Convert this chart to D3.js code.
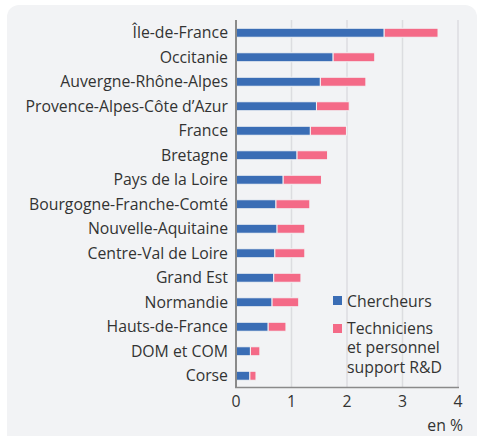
<!DOCTYPE html>
<html>
<head>
<meta charset="utf-8">
<script src="https://cdn.jsdelivr.net/npm/d3@7"></script>
<style>
  body { margin: 0; background: #fff; }
  text { font-family: "Open Sans", "Noto Sans", sans-serif; fill: #333; }
</style>
</head>
<body>
<div id="chart"></div>
<script>
var regions = ["Île-de-France", "Occitanie", "Auvergne-Rhône-Alpes", "Provence-Alpes-Côte d’Azur",
  "France", "Bretagne", "Pays de la Loire", "Bourgogne-Franche-Comté", "Nouvelle-Aquitaine",
  "Centre-Val de Loire", "Grand Est", "Normandie", "Hauts-de-France", "DOM et COM", "Corse"];
var chercheurs = [2.67, 1.75, 1.52, 1.45, 1.34, 1.10, 0.85, 0.72, 0.74, 0.70, 0.68, 0.65, 0.58, 0.26, 0.25];
var techniciens = [0.97, 0.75, 0.82, 0.59, 0.65, 0.55, 0.69, 0.61, 0.50, 0.54, 0.49, 0.48, 0.32, 0.17, 0.11];
var ticks = [0, 1, 2, 3, 4];
var seriesNames = ["Chercheurs", ["Techniciens", "et personnel", "support R&D"]];
var colors = ["#3a6db5", "#f46a87"];

var width = 477, height = 436;
var fs = '15.8px';
var svg = d3.select('#chart').append('svg')
    .attr('width', width)
    .attr('height', height);

// card
svg.append('path')
    .attr('d', 'M7,' + (height + 20) + 'V17a12,12 0 0 1 12,-12H465a12,12 0 0 1 12,12V' + (height + 20) + 'Z')
    .attr('fill', '#f2f3f5');

var x = d3.scaleLinear().domain([0, 4]).range([236, 458]);
var y = d3.scaleBand().domain(regions).range([20.5, 388]);
var barH = 9;

// grid
svg.selectAll('line.grid')
    .data(ticks.slice(1))
    .enter().append('line')
    .attr('class', 'grid')
    .attr('x1', function (d) { return x(d); })
    .attr('x2', function (d) { return x(d); })
    .attr('y1', 20)
    .attr('y2', 387)
    .attr('stroke', '#dcdde0')
    .attr('stroke-width', 1.5);

var stacked = regions.map(function (r, i) {
    return [{r: r, x0: 0, x1: chercheurs[i], c: 0},
            {r: r, x0: chercheurs[i], x1: chercheurs[i] + techniciens[i], c: 1}];
});

svg.selectAll('g.bar')
    .data(stacked)
    .enter().append('g')
    .attr('class', 'bar')
    .selectAll('rect')
    .data(function (d) { return d; })
    .enter().append('rect')
    .attr('x', function (d) { return x(d.x0); })
    .attr('width', function (d) { return x(d.x1) - x(d.x0); })
    .attr('y', function (d) { return y(d.r) + y.bandwidth() / 2 - barH / 2; })
    .attr('height', barH)
    .attr('fill', function (d) { return colors[d.c]; })
    .attr('stroke', '#f2f3f5')
    .attr('stroke-width', 1);

// region labels
svg.selectAll('text.label')
    .data(regions)
    .enter().append('text')
    .attr('class', 'label')
    .attr('x', 228)
    .attr('y', function (d) { return y(d) + y.bandwidth() / 2; })
    .attr('dy', '0.35em')
    .attr('text-anchor', 'end')
    .style('font-size', fs)
    .text(function (d) { return d; });

// axes lines
svg.append('line')
    .attr('x1', 236).attr('x2', 236)
    .attr('y1', 20).attr('y2', 388)
    .attr('stroke', '#8a8a8a').attr('stroke-width', 2);
svg.append('line')
    .attr('x1', 235).attr('x2', 459)
    .attr('y1', 387.5).attr('y2', 387.5)
    .attr('stroke', '#8a8a8a').attr('stroke-width', 1.5);

svg.selectAll('text.tick')
    .data(ticks)
    .enter().append('text')
    .attr('class', 'tick')
    .attr('x', function (d) { return x(d); })
    .attr('y', 407)
    .attr('text-anchor', 'middle')
    .style('font-size', fs)
    .text(function (d) { return d; });

svg.append('text')
    .attr('x', 463).attr('y', 431)
    .attr('text-anchor', 'end')
    .style('font-size', fs)
    .text('en %');

// legend
var leg = svg.append('g');
leg.append('rect').attr('x', 333).attr('y', 296).attr('width', 9).attr('height', 9).attr('fill', colors[0]);
leg.append('text').attr('x', 347).attr('y', 306.5).style('font-size', fs).text(seriesNames[0]);
leg.append('rect').attr('x', 333).attr('y', 324).attr('width', 9).attr('height', 9).attr('fill', colors[1]);
leg.append('text').attr('x', 347).attr('y', 333.5).style('font-size', fs)
    .selectAll('tspan')
    .data(seriesNames[1])
    .enter().append('tspan')
    .attr('x', 347)
    .attr('dy', function (d, i) { return i ? 19.5 : 0; })
    .text(function (d) { return d; });
</script>
</body>
</html>
